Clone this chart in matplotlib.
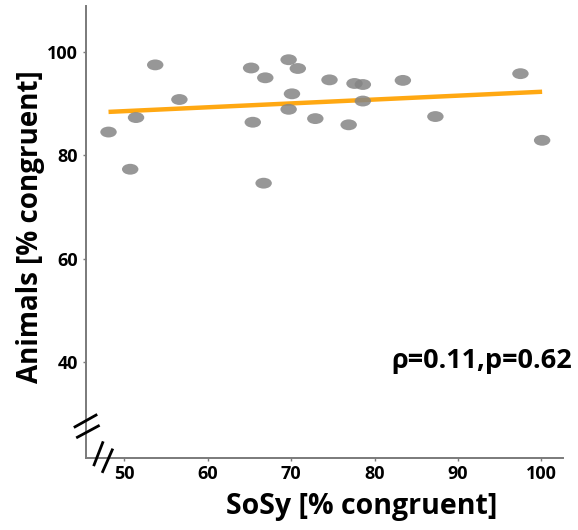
import numpy as np
import matplotlib
matplotlib.use('Agg')
import matplotlib.pyplot as plt
from matplotlib.path import Path
from matplotlib.transforms import Affine2D

# --- data ---
sosy = [48.1, 51.4, 50.7, 53.7, 56.6, 65.2, 66.9, 65.4, 66.7, 69.7, 70.8, 70.1,
        69.7, 74.6, 72.9, 76.9, 77.6, 78.6, 78.6, 83.4, 87.3, 97.5, 100.1]
animals = [84.5, 87.3, 77.3, 97.5, 90.8, 96.9, 95.0, 86.4, 74.6, 98.5, 96.8, 91.9,
           88.9, 94.6, 87.1, 85.9, 93.9, 93.7, 90.5, 94.5, 87.5, 95.8, 82.9]
fit_x = [48.1, 100.1]
fit_y = [88.4, 92.3]
x_ticks = [50, 60, 70, 80, 90, 100]
y_ticks = [40, 60, 80, 100]
stats_label = 'ρ=0.11,p=0.62'

plt.rcParams['font.family'] = ['Open Sans', 'DejaVu Sans']

fig = plt.figure(figsize=(5.78, 5.30), dpi=100)
ax = fig.add_axes([0.1488, 0.1358, 0.8252, 0.8529])

# flattened ellipse marker
ellipse = Path.unit_circle().transformed(Affine2D().scale(1.0, 0.66))

ax.scatter(sosy, animals, marker=ellipse, s=140, color='#858585', alpha=0.85,
           edgecolors='none', zorder=3)
ax.plot(fit_x, fit_y, color='#FFA812', lw=3.2, solid_capstyle='butt', zorder=2)

ax.set_xlim(45.4, 102.6)
ax.set_ylim(21.4, 108.9)
ax.set_xticks(x_ticks)
ax.set_yticks(y_ticks)

for side in ['top', 'right']:
    ax.spines[side].set_visible(False)
for side in ['left', 'bottom']:
    ax.spines[side].set_color('#7a7a7a')
    ax.spines[side].set_linewidth(1.4)

ax.tick_params(axis='both', length=2, width=1, color='#7a7a7a', labelsize=13)
ax.tick_params(axis='y', pad=4)
ax.tick_params(axis='x', pad=3)
for lbl in ax.get_xticklabels() + ax.get_yticklabels():
    lbl.set_fontweight('bold')

ax.set_xlabel('SoSy [% congruent]', fontsize=20.5, fontweight='bold')
ax.set_ylabel('Animals [% congruent]', fontsize=20, fontweight='bold')
ax.xaxis.set_label_coords(0.578, -0.075)
ax.yaxis.set_label_coords(-0.085, 0.513)

ax.text(1.02, 0.215, stats_label, transform=ax.transAxes, ha='right', va='center',
        fontsize=19.5, fontweight='bold', clip_on=False)

# axis break marks
brk = dict(color='black', lw=2, transform=ax.transAxes, clip_on=False, zorder=5)
ax.plot([-0.023, 0.021], [0.069, 0.095], **brk)
ax.plot([-0.018, 0.026], [0.046, 0.071], **brk)
ax.plot([0.017, 0.035], [-0.015, 0.034], **brk)
ax.plot([0.035, 0.055], [-0.030, 0.018], **brk)

plt.savefig('out.png', dpi=100)
plt.close()
